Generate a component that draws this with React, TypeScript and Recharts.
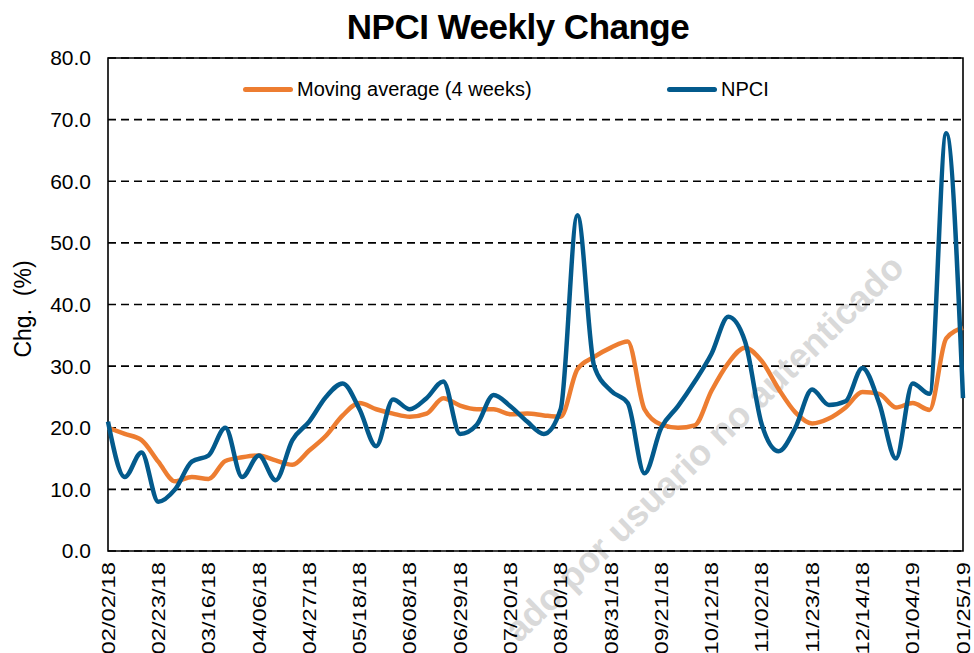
import {
  CartesianGrid,
  Line,
  LineChart,
  ReferenceArea,
  XAxis,
  YAxis,
} from "recharts";

const weeks = [
  "02/02/18", "02/09/18", "02/16/18", "02/23/18", "03/02/18", "03/09/18", "03/16/18",
  "03/23/18", "03/30/18", "04/06/18", "04/13/18", "04/20/18", "04/27/18", "05/04/18",
  "05/11/18", "05/18/18", "05/25/18", "06/01/18", "06/08/18", "06/15/18", "06/22/18",
  "06/29/18", "07/06/18", "07/13/18", "07/20/18", "07/27/18", "08/03/18", "08/10/18",
  "08/17/18", "08/24/18", "08/31/18", "09/07/18", "09/14/18", "09/21/18", "09/28/18",
  "10/05/18", "10/12/18", "10/19/18", "10/26/18", "11/02/18", "11/09/18", "11/16/18",
  "11/23/18", "11/30/18", "12/07/18", "12/14/18", "12/21/18", "12/28/18", "01/04/19",
  "01/11/19", "01/18/19", "01/25/19",
];

const npci = [
  21, 12, 16, 8, 10, 14.5, 15.5, 20, 12, 15.5, 11.5, 18, 21, 25, 27.2, 23, 17, 24.6,
  23, 24.8, 27.5, 19, 20.5, 25.3, 23.5, 21, 19, 23, 54.5, 30, 26, 24, 12.6, 20, 23.5,
  27.5, 32, 38, 34, 20.5, 16.2, 20, 26.2, 23.7, 24.3, 29.7, 24, 15, 27.2, 25.5, 67.8,
  24.8,
];

const movingAvg = [
  20, 19, 18, 14.5, 11.3, 12, 11.7, 14.6, 15.2, 15.5, 14.7, 14, 16.3, 18.7, 22, 24, 23,
  22.3, 21.8, 22.3, 24.8, 23.6, 23, 23, 22.2, 22.3, 22, 21.8, 29.5, 31.5, 33, 34, 23,
  20.5, 20, 20.4, 26, 30.5, 33, 30.8, 26.3, 22.5, 20.7, 21.5, 23.3, 25.8, 25.5, 23.3,
  24, 22.9, 34.5, 36.2,
];

const yTicks = [0, 10, 20, 30, 40, 50, 60, 70, 80];

const data = weeks.map((week, i) => ({
  week,
  npci: npci[i],
  ma: movingAvg[i],
}));

const FONT = "'Liberation Sans', Arial, sans-serif";
const ORANGE = "#ed7d31";
const BLUE = "#035a8c";

const legendItems = [
  { name: "Moving average (4 weeks)", color: ORANGE, left: 243 },
  { name: "NPCI", color: BLUE, left: 667 },
];

function DateTick({ x, y, payload }: any) {
  return (
    <text
      transform={`translate(${x},${y + 9}) rotate(-90) scale(1.25,1)`}
      textAnchor="end"
      dy="0.35em"
      fontSize={19}
      fontFamily={FONT}
      fill="#000"
    >
      {payload.value}
    </text>
  );
}

export default function App() {
  return (
    <div style={{ position: "absolute", left: 0, top: 0, width: 974, height: 653, overflow: "hidden", background: "#fff" }}>
      {/* watermark sits behind the chart */}
      <svg width={974} height={653} style={{ position: "absolute", left: 0, top: 0 }}>
        <text
          transform="translate(906,270) rotate(-44)"
          textAnchor="end"
          fontSize={36}
          fontWeight="bold"
          fontFamily={FONT}
          fill="#d9d9d9"
        >
          ado por usuario no autenticado
        </text>
      </svg>

      <div
        style={{
          position: "absolute",
          left: 0,
          top: 7,
          width: 1036,
          textAlign: "center",
          fontFamily: FONT,
          fontWeight: "bold",
          fontSize: 35,
          letterSpacing: -0.5,
          color: "#000",
          lineHeight: "40px",
        }}
      >
        NPCI Weekly Change
      </div>

      <div style={{ position: "absolute", left: 0, top: 0 }}>
        <LineChart width={974} height={653} data={data} margin={{ top: 58, right: 11, bottom: 0, left: 0 }}>
          <CartesianGrid vertical={false} stroke="#000" strokeDasharray="8 5" strokeWidth={1.6} />
          <XAxis
            dataKey="week"
            interval={2}
            height={102}
            tick={<DateTick />}
            tickLine={false}
            axisLine={false}
            tickSize={0}
          />
          <YAxis
            width={108}
            domain={[0, 80]}
            ticks={yTicks}
            tickFormatter={(v: number) => v.toFixed(1)}
            tickLine={false}
            axisLine={false}
            tickSize={0}
            tickMargin={17}
            tick={{ fontSize: 21, fontFamily: FONT, fill: "#000" }}
            label={{
              content: () => (
                <text
                  x={23}
                  y={309}
                  transform="rotate(-90,23,309)"
                  textAnchor="middle"
                  dy="0.35em"
                  fontSize={23}
                  fontFamily={FONT}
                  fill="#000"
                  style={{ whiteSpace: "pre" }}
                >
                  Chg.  (%)
                </text>
              ),
            }}
          />
          <ReferenceArea
            x1={weeks[0]}
            x2={weeks[weeks.length - 1]}
            y1={0}
            y2={80}
            fill="none"
            fillOpacity={0}
            stroke="#000"
            strokeWidth={1.6}
          />
          <Line
            type="monotone"
            dataKey="ma"
            name="Moving average (4 weeks)"
            stroke={ORANGE}
            strokeWidth={4.5}
            dot={false}
            isAnimationActive={false}
          />
          <Line
            type="monotone"
            dataKey="npci"
            name="NPCI"
            stroke={BLUE}
            strokeWidth={4.5}
            dot={false}
            isAnimationActive={false}
          />
        </LineChart>
      </div>

      {/* legend inside the plot, as in the original */}
      <div style={{ position: "absolute", left: 0, top: 76, width: 974, height: 26, fontFamily: FONT, fontSize: 20 }}>
        {legendItems.map((item) => (
          <div
            key={item.name}
            style={{ position: "absolute", left: item.left, top: 0, height: 26, display: "flex", alignItems: "center" }}
          >
            <span
              style={{
                display: "inline-block",
                width: 50,
                height: 5,
                borderRadius: 3,
                background: item.color,
                marginRight: 4,
              }}
            />
            <span style={{ color: "#000" }}>{item.name}</span>
          </div>
        ))}
      </div>
    </div>
  );
}
